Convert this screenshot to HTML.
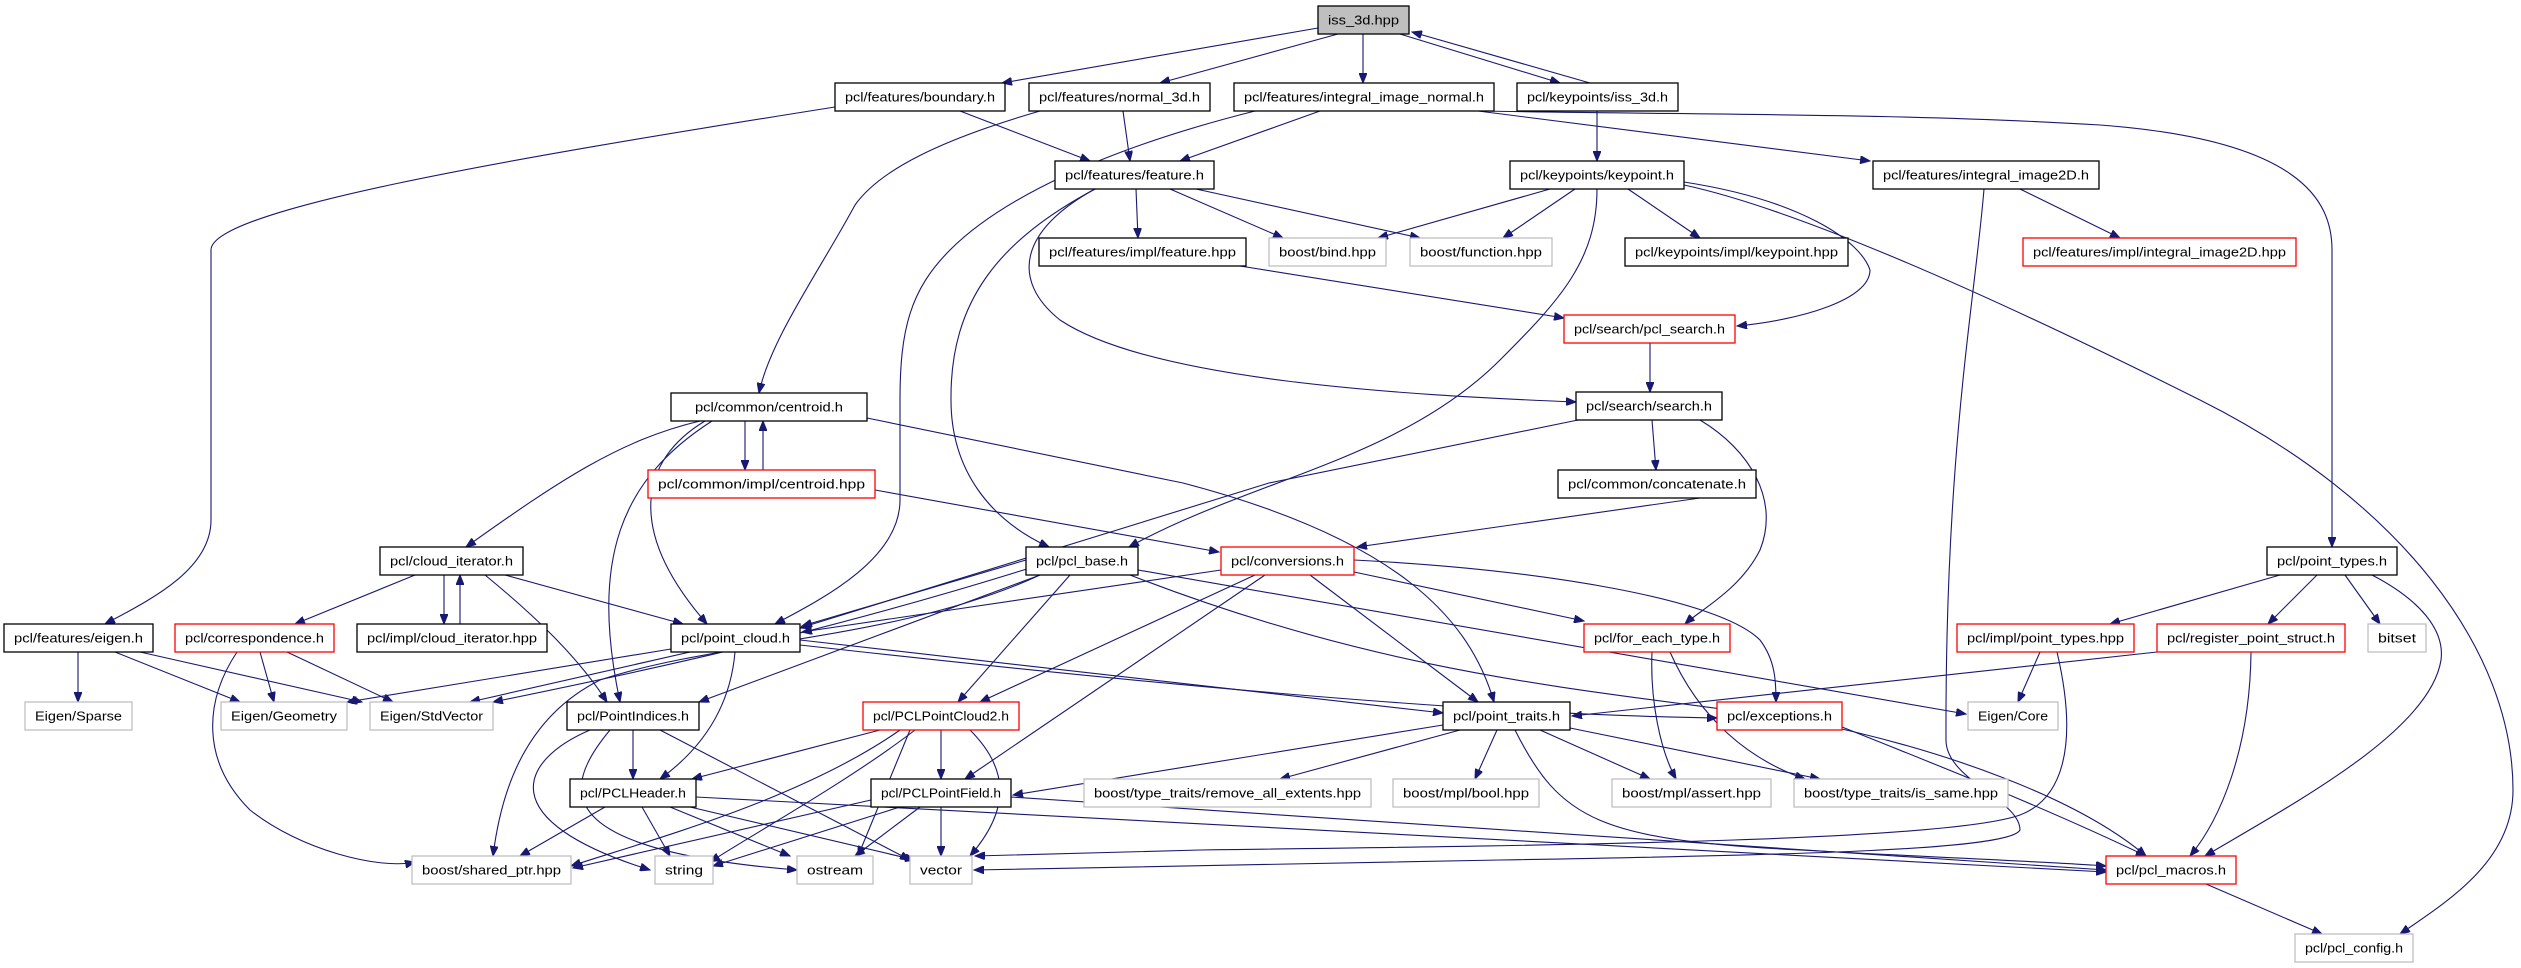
<!DOCTYPE html>
<html><head><meta charset="utf-8"><style>
html,body{margin:0;padding:0;background:#fff;}
svg{display:block;}
text{font-family:"Liberation Sans",sans-serif;font-size:12.5px;fill:#000;}
.e{fill:none;stroke:#191970;stroke-width:1.1;marker-end:url(#ah);}
.n{fill:#fff;stroke:#000;stroke-width:1.3;}
.r{fill:#fff;stroke:#ff0000;stroke-width:1.3;}
.g{fill:#fff;stroke:#bfbfbf;stroke-width:1.3;}
</style></head><body>
<svg width="2521" height="968" viewBox="0 0 2521 968" xmlns="http://www.w3.org/2000/svg">
<defs><marker id="ah" markerUnits="userSpaceOnUse" markerWidth="11" markerHeight="8" refX="10" refY="4" orient="auto"><path d="M0,0 L10,4 L0,8 z" fill="#191970" stroke="#191970"/></marker></defs>
<!-- edges -->
<path class="e" d="M1318,28 L1002,83"/>
<path class="e" d="M1338,34 L1160,83"/>
<path class="e" d="M1363,34 L1363,83"/>
<path class="e" d="M1400,34 L1560,83"/>
<path class="e" d="M1590,83 L1412,32"/>
<path class="e" d="M960,111 L1090,161"/>
<path class="e" d="M835,107 C500,160 211,210 211,250 L211,520 C211,570 150,600 105,624"/>
<path class="e" d="M1123,111 L1130,161"/>
<path class="e" d="M1040,111 C940,140 880,170 855,205 C820,270 770,340 759,393"/>
<path class="e" d="M1320,111 L1180,161"/>
<path class="e" d="M1255,111 C1100,150 1000,200 950,250 C910,290 900,330 900,400 L900,500 C900,560 820,600 775,624"/>
<path class="e" d="M1478,111 L1870,161"/>
<path class="e" d="M1480,111 C1700,115 1900,113 2100,125 C2300,140 2332,200 2332,250 L2332,547"/>
<path class="e" d="M1597,111 L1597,161"/>
<path class="e" d="M1136,189 L1138,238"/>
<path class="e" d="M1170,189 L1283,238"/>
<path class="e" d="M1196,189 L1420,238"/>
<path class="e" d="M1095,189 C1020,230 1010,280 1060,320 C1150,380 1400,395 1576,402"/>
<path class="e" d="M1095,189 C1000,240 950,300 951,400 C951,470 990,520 1049,547"/>
<path class="e" d="M1550,189 L1378,238"/>
<path class="e" d="M1575,189 L1503,238"/>
<path class="e" d="M1628,189 L1700,238"/>
<path class="e" d="M1684,182 C1800,200 1860,240 1870,270 C1870,300 1800,320 1737,326"/>
<path class="e" d="M1597,189 C1597,260 1560,300 1500,360 C1400,460 1250,480 1129,547"/>
<path class="e" d="M1684,185 C1800,210 2000,300 2200,400 C2400,500 2513,650 2513,790 C2513,860 2450,900 2400,934"/>
<path class="e" d="M1240,266 L1564,318"/>
<path class="e" d="M1650,343 L1650,392"/>
<path class="e" d="M1652,420 L1656,470"/>
<path class="e" d="M1578,420 L1269,483 L800,628"/>
<path class="e" d="M1700,420 C1750,450 1780,500 1760,550 C1740,590 1700,610 1685,624"/>
<path class="e" d="M1700,498 L1357,547"/>
<path class="e" d="M2020,189 L2120,238"/>
<path class="e" d="M1984,189 C1975,300 1945,450 1946,740 C1946,780 2020,800 2020,830 C2010,850 1800,855 1500,860 L974,870"/>
<path class="e" d="M745,421 L745,470"/>
<path class="e" d="M763,470 L763,421"/>
<path class="e" d="M700,421 C620,440 560,480 466,547"/>
<path class="e" d="M705,421 C640,460 625,530 707,624"/>
<path class="e" d="M712,421 C620,480 590,560 620,702"/>
<path class="e" d="M867,418 L1183,483 C1400,540 1470,620 1494,702"/>
<path class="e" d="M875,490 L1219,552"/>
<path class="e" d="M415,575 L295,624"/>
<path class="e" d="M444,575 L444,624"/>
<path class="e" d="M460,624 L460,575"/>
<path class="e" d="M505,575 L683,624"/>
<path class="e" d="M485,575 C540,620 580,660 607,702"/>
<path class="e" d="M78,652 L78,702"/>
<path class="e" d="M115,652 L240,702"/>
<path class="e" d="M140,652 L362,702"/>
<path class="e" d="M260,652 L274,702"/>
<path class="e" d="M287,652 L393,702"/>
<path class="e" d="M237,652 C205,700 200,760 250,810 C300,850 380,870 415,862"/>
<path class="e" d="M690,652 L470,702"/>
<path class="e" d="M671,649 L347,702"/>
<path class="e" d="M735,652 C730,710 700,750 660,779"/>
<path class="e" d="M800,640 L1443,713"/>
<path class="e" d="M800,645 C1200,690 1500,715 1717,718"/>
<path class="e" d="M1221,570 L802,632"/>
<path class="e" d="M1255,575 L980,702"/>
<path class="e" d="M1265,575 L965,779"/>
<path class="e" d="M1310,575 L1478,702"/>
<path class="e" d="M1354,572 L1584,621"/>
<path class="e" d="M1354,560 C1550,570 1720,600 1760,640 C1775,660 1776,680 1776,702"/>
<path class="e" d="M1026,560 L802,626"/>
<path class="e" d="M1030,568 C800,640 600,680 493,702"/>
<path class="e" d="M1040,575 C900,640 720,640 600,680 C520,720 500,800 493,856"/>
<path class="e" d="M1040,575 L699,702"/>
<path class="e" d="M1070,575 L958,702"/>
<path class="e" d="M1138,570 L1966,714"/>
<path class="e" d="M1130,575 C1400,680 1600,690 1800,720 C1950,750 2080,800 2146,856"/>
<path class="e" d="M633,730 L633,779"/>
<path class="e" d="M590,730 C520,760 490,820 650,870"/>
<path class="e" d="M610,730 C560,790 550,850 797,870"/>
<path class="e" d="M660,730 L910,860"/>
<path class="e" d="M605,807 L520,856"/>
<path class="e" d="M642,807 L670,856"/>
<path class="e" d="M670,807 L790,856"/>
<path class="e" d="M690,807 L915,860"/>
<path class="e" d="M696,797 L2106,872"/>
<path class="e" d="M880,730 L692,779"/>
<path class="e" d="M941,730 L941,779"/>
<path class="e" d="M915,730 C850,780 760,830 710,862"/>
<path class="e" d="M910,730 L858,856"/>
<path class="e" d="M970,730 C1010,770 1010,810 970,856"/>
<path class="e" d="M900,730 C800,800 650,840 571,866"/>
<path class="e" d="M900,807 L713,866"/>
<path class="e" d="M920,807 L855,856"/>
<path class="e" d="M941,807 L941,856"/>
<path class="e" d="M871,800 L573,868"/>
<path class="e" d="M1011,797 L2106,870"/>
<path class="e" d="M1443,725 L1013,795"/>
<path class="e" d="M1460,730 L1280,779"/>
<path class="e" d="M1497,730 L1475,779"/>
<path class="e" d="M1540,730 L1650,779"/>
<path class="e" d="M1570,728 L1820,779"/>
<path class="e" d="M1515,730 C1560,820 1600,840 1800,850 C1950,858 2050,862 2106,866"/>
<path class="e" d="M1652,652 C1650,700 1660,750 1676,779"/>
<path class="e" d="M1670,652 C1700,720 1750,760 1805,779"/>
<path class="e" d="M1842,727 C1950,770 2050,810 2146,856"/>
<path class="e" d="M2280,575 L2110,624"/>
<path class="e" d="M2317,575 L2268,624"/>
<path class="e" d="M2345,575 L2380,624"/>
<path class="e" d="M2372,575 C2420,600 2445,630 2441,660 C2430,730 2300,800 2205,856"/>
<path class="e" d="M2040,652 L2018,702"/>
<path class="e" d="M2057,652 C2080,750 2060,800 2020,815 C1950,840 1600,845 1200,850 L975,856"/>
<path class="e" d="M2157,652 L1572,716"/>
<path class="e" d="M2251,652 C2250,750 2220,820 2190,856"/>
<path class="e" d="M2206,884 L2322,934"/>
<!-- nodes -->
<rect x="1318" y="6" width="91" height="28" fill="#bfbfbf" stroke="#000" stroke-width="1.3"/><text x="1363.5" y="24.5" text-anchor="middle" textLength="71" lengthAdjust="spacingAndGlyphs">iss_3d.hpp</text>
<rect class="n" x="835" y="83" width="170" height="28"/><text x="920" y="101.5" text-anchor="middle" textLength="150" lengthAdjust="spacingAndGlyphs">pcl/features/boundary.h</text>
<rect class="n" x="1029" y="83" width="181" height="28"/><text x="1119.5" y="101.5" text-anchor="middle" textLength="161" lengthAdjust="spacingAndGlyphs">pcl/features/normal_3d.h</text>
<rect class="n" x="1234" y="83" width="260" height="28"/><text x="1364" y="101.5" text-anchor="middle" textLength="240" lengthAdjust="spacingAndGlyphs">pcl/features/integral_image_normal.h</text>
<rect class="n" x="1517" y="83" width="161" height="28"/><text x="1597.5" y="101.5" text-anchor="middle" textLength="141" lengthAdjust="spacingAndGlyphs">pcl/keypoints/iss_3d.h</text>
<rect class="n" x="1055" y="161" width="159" height="28"/><text x="1134.5" y="179.5" text-anchor="middle" textLength="139" lengthAdjust="spacingAndGlyphs">pcl/features/feature.h</text>
<rect class="n" x="1510" y="161" width="174" height="28"/><text x="1597" y="179.5" text-anchor="middle" textLength="154" lengthAdjust="spacingAndGlyphs">pcl/keypoints/keypoint.h</text>
<rect class="n" x="1873" y="161" width="226" height="28"/><text x="1986" y="179.5" text-anchor="middle" textLength="206" lengthAdjust="spacingAndGlyphs">pcl/features/integral_image2D.h</text>
<rect class="n" x="1039" y="238" width="207" height="28"/><text x="1142.5" y="256.5" text-anchor="middle" textLength="187" lengthAdjust="spacingAndGlyphs">pcl/features/impl/feature.hpp</text>
<rect class="g" x="1269" y="238" width="117" height="28"/><text x="1327.5" y="256.5" text-anchor="middle" textLength="97" lengthAdjust="spacingAndGlyphs">boost/bind.hpp</text>
<rect class="g" x="1410" y="238" width="142" height="28"/><text x="1481" y="256.5" text-anchor="middle" textLength="122" lengthAdjust="spacingAndGlyphs">boost/function.hpp</text>
<rect class="n" x="1625" y="238" width="223" height="28"/><text x="1736.5" y="256.5" text-anchor="middle" textLength="203" lengthAdjust="spacingAndGlyphs">pcl/keypoints/impl/keypoint.hpp</text>
<rect class="r" x="2023" y="238" width="273" height="28"/><text x="2159.5" y="256.5" text-anchor="middle" textLength="253" lengthAdjust="spacingAndGlyphs">pcl/features/impl/integral_image2D.hpp</text>
<rect class="r" x="1564" y="315" width="171" height="28"/><text x="1649.5" y="333.5" text-anchor="middle" textLength="151" lengthAdjust="spacingAndGlyphs">pcl/search/pcl_search.h</text>
<rect class="n" x="1576" y="392" width="146" height="28"/><text x="1649" y="410.5" text-anchor="middle" textLength="126" lengthAdjust="spacingAndGlyphs">pcl/search/search.h</text>
<rect class="n" x="671" y="393" width="196" height="28"/><text x="769" y="411.5" text-anchor="middle" textLength="148" lengthAdjust="spacingAndGlyphs">pcl/common/centroid.h</text>
<rect class="n" x="1558" y="470" width="198" height="28"/><text x="1657" y="488.5" text-anchor="middle" textLength="178" lengthAdjust="spacingAndGlyphs">pcl/common/concatenate.h</text>
<rect class="r" x="648" y="470" width="227" height="28"/><text x="761.5" y="488.5" text-anchor="middle" textLength="207" lengthAdjust="spacingAndGlyphs">pcl/common/impl/centroid.hpp</text>
<rect class="n" x="380" y="547" width="143" height="28"/><text x="451.5" y="565.5" text-anchor="middle" textLength="123" lengthAdjust="spacingAndGlyphs">pcl/cloud_iterator.h</text>
<rect class="n" x="1026" y="547" width="112" height="28"/><text x="1082" y="565.5" text-anchor="middle" textLength="92" lengthAdjust="spacingAndGlyphs">pcl/pcl_base.h</text>
<rect class="r" x="1221" y="547" width="133" height="28"/><text x="1287.5" y="565.5" text-anchor="middle" textLength="113" lengthAdjust="spacingAndGlyphs">pcl/conversions.h</text>
<rect class="n" x="2267" y="547" width="130" height="28"/><text x="2332" y="565.5" text-anchor="middle" textLength="110" lengthAdjust="spacingAndGlyphs">pcl/point_types.h</text>
<rect class="n" x="4" y="624" width="149" height="28"/><text x="78.5" y="642.5" text-anchor="middle" textLength="129" lengthAdjust="spacingAndGlyphs">pcl/features/eigen.h</text>
<rect class="r" x="175" y="624" width="159" height="28"/><text x="254.5" y="642.5" text-anchor="middle" textLength="139" lengthAdjust="spacingAndGlyphs">pcl/correspondence.h</text>
<rect class="n" x="357" y="624" width="190" height="28"/><text x="452" y="642.5" text-anchor="middle" textLength="170" lengthAdjust="spacingAndGlyphs">pcl/impl/cloud_iterator.hpp</text>
<rect class="n" x="671" y="624" width="129" height="28"/><text x="735.5" y="642.5" text-anchor="middle" textLength="109" lengthAdjust="spacingAndGlyphs">pcl/point_cloud.h</text>
<rect class="r" x="1584" y="624" width="146" height="28"/><text x="1657" y="642.5" text-anchor="middle" textLength="126" lengthAdjust="spacingAndGlyphs">pcl/for_each_type.h</text>
<rect class="r" x="1957" y="624" width="177" height="28"/><text x="2045.5" y="642.5" text-anchor="middle" textLength="157" lengthAdjust="spacingAndGlyphs">pcl/impl/point_types.hpp</text>
<rect class="r" x="2157" y="624" width="188" height="28"/><text x="2251" y="642.5" text-anchor="middle" textLength="168" lengthAdjust="spacingAndGlyphs">pcl/register_point_struct.h</text>
<rect class="g" x="2368" y="624" width="58" height="28"/><text x="2397" y="642.5" text-anchor="middle" textLength="38" lengthAdjust="spacingAndGlyphs">bitset</text>
<rect class="g" x="25" y="702" width="107" height="28"/><text x="78.5" y="720.5" text-anchor="middle" textLength="87" lengthAdjust="spacingAndGlyphs">Eigen/Sparse</text>
<rect class="g" x="221" y="702" width="126" height="28"/><text x="284" y="720.5" text-anchor="middle" textLength="106" lengthAdjust="spacingAndGlyphs">Eigen/Geometry</text>
<rect class="g" x="370" y="702" width="123" height="28"/><text x="431.5" y="720.5" text-anchor="middle" textLength="103" lengthAdjust="spacingAndGlyphs">Eigen/StdVector</text>
<rect class="n" x="567" y="702" width="132" height="28"/><text x="633" y="720.5" text-anchor="middle" textLength="112" lengthAdjust="spacingAndGlyphs">pcl/PointIndices.h</text>
<rect class="r" x="863" y="702" width="156" height="28"/><text x="941" y="720.5" text-anchor="middle" textLength="136" lengthAdjust="spacingAndGlyphs">pcl/PCLPointCloud2.h</text>
<rect class="n" x="1443" y="702" width="127" height="28"/><text x="1506.5" y="720.5" text-anchor="middle" textLength="107" lengthAdjust="spacingAndGlyphs">pcl/point_traits.h</text>
<rect class="r" x="1717" y="702" width="125" height="28"/><text x="1779.5" y="720.5" text-anchor="middle" textLength="105" lengthAdjust="spacingAndGlyphs">pcl/exceptions.h</text>
<rect class="g" x="1968" y="702" width="90" height="28"/><text x="2013" y="720.5" text-anchor="middle" textLength="70" lengthAdjust="spacingAndGlyphs">Eigen/Core</text>
<rect class="n" x="570" y="779" width="126" height="28"/><text x="633" y="797.5" text-anchor="middle" textLength="106" lengthAdjust="spacingAndGlyphs">pcl/PCLHeader.h</text>
<rect class="n" x="871" y="779" width="140" height="28"/><text x="941" y="797.5" text-anchor="middle" textLength="120" lengthAdjust="spacingAndGlyphs">pcl/PCLPointField.h</text>
<rect class="g" x="1084" y="779" width="287" height="28"/><text x="1227.5" y="797.5" text-anchor="middle" textLength="267" lengthAdjust="spacingAndGlyphs">boost/type_traits/remove_all_extents.hpp</text>
<rect class="g" x="1393" y="779" width="146" height="28"/><text x="1466" y="797.5" text-anchor="middle" textLength="126" lengthAdjust="spacingAndGlyphs">boost/mpl/bool.hpp</text>
<rect class="g" x="1612" y="779" width="159" height="28"/><text x="1691.5" y="797.5" text-anchor="middle" textLength="139" lengthAdjust="spacingAndGlyphs">boost/mpl/assert.hpp</text>
<rect class="g" x="1794" y="779" width="214" height="28"/><text x="1901" y="797.5" text-anchor="middle" textLength="194" lengthAdjust="spacingAndGlyphs">boost/type_traits/is_same.hpp</text>
<rect class="g" x="412" y="856" width="159" height="28"/><text x="491.5" y="874.5" text-anchor="middle" textLength="139" lengthAdjust="spacingAndGlyphs">boost/shared_ptr.hpp</text>
<rect class="g" x="655" y="856" width="58" height="28"/><text x="684" y="874.5" text-anchor="middle" textLength="38" lengthAdjust="spacingAndGlyphs">string</text>
<rect class="g" x="797" y="856" width="76" height="28"/><text x="835" y="874.5" text-anchor="middle" textLength="56" lengthAdjust="spacingAndGlyphs">ostream</text>
<rect class="g" x="910" y="856" width="62" height="28"/><text x="941" y="874.5" text-anchor="middle" textLength="42" lengthAdjust="spacingAndGlyphs">vector</text>
<rect class="r" x="2106" y="856" width="130" height="28"/><text x="2171" y="874.5" text-anchor="middle" textLength="110" lengthAdjust="spacingAndGlyphs">pcl/pcl_macros.h</text>
<rect class="g" x="2295" y="934" width="118" height="28"/><text x="2354" y="952.5" text-anchor="middle" textLength="98" lengthAdjust="spacingAndGlyphs">pcl/pcl_config.h</text>
</svg>
</body></html>
